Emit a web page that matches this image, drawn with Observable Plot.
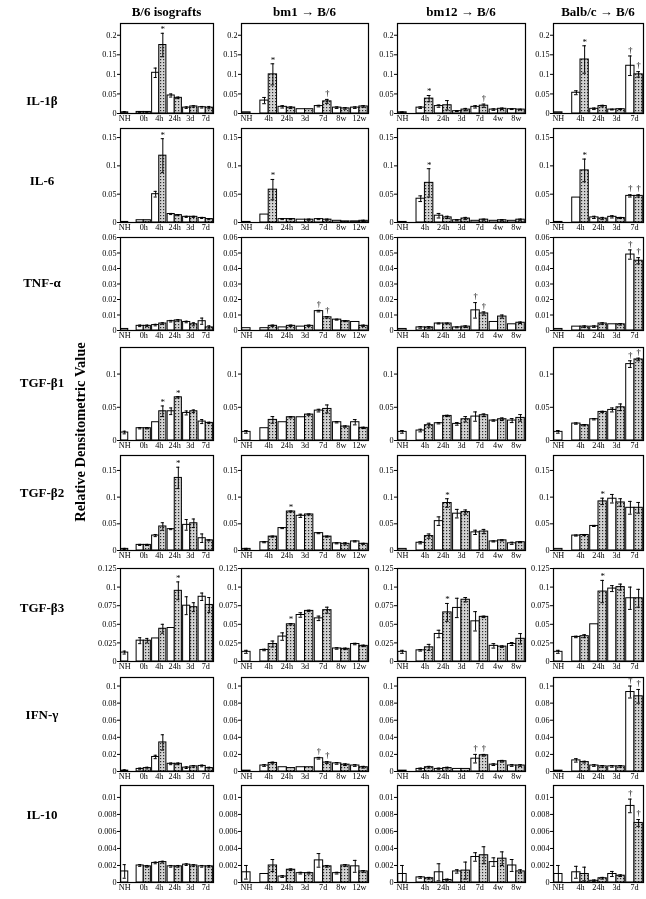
<!DOCTYPE html>
<html><head><meta charset="utf-8">
<script src="https://cdn.jsdelivr.net/npm/d3@7"></script>
<script src="https://cdn.jsdelivr.net/npm/@observablehq/plot@0.6"></script>
<style>
body{margin:0;background:#fff;}
#fig{position:relative;width:646px;height:899px;overflow:hidden;font-family:"Liberation Serif","DejaVu Serif",serif;color:#000;filter:grayscale(100%);}
.hdr{position:absolute;font-weight:bold;font-size:13px;transform:translate(-50%,-50%);white-space:nowrap;}
.rowlab{position:absolute;font-weight:bold;font-size:13px;transform:translate(-50%,-50%);white-space:nowrap;}
.ytitle{position:absolute;font-weight:bold;font-size:14.5px;white-space:nowrap;transform:translate(-50%,-50%) rotate(-90deg);}
.panel{position:absolute;}
.panel svg{overflow:visible;}
</style></head><body>
<div id="fig">
<svg width="0" height="0" style="position:absolute"><defs>
<pattern id="dots" width="3" height="3" patternUnits="userSpaceOnUse">
<rect width="3" height="3" fill="#d2d2d2"/><rect x="1" y="1" width="1.2" height="1.2" fill="#2a2a2a"/>
</pattern></defs></svg>
</div>
<script>
// ---------- categories / labels ----------
const COLS = ["B/6 isografts", "bm1 \u2192 B/6", "bm12 \u2192 B/6", "Balb/c \u2192 B/6"];
const CAT_ISO = ["NH","0h","4h","24h","3d","7d"];
const CAT_BM1 = ["NH","4h","24h","3d","7d","8w","12w"];
const CAT_BM12 = ["NH","4h","24h","3d","7d","4w","8w"];
const CAT_BALB = ["NH","4h","24h","3d","7d"];
const CATS = [CAT_ISO, CAT_BM1, CAT_BM12, CAT_BALB];
const ROWS = ["IL-1\u03b2","IL-6","TNF-\u03b1","TGF-\u03b21","TGF-\u03b22","TGF-\u03b23","IFN-\u03b3","IL-10"];
const Y_TITLE = "Relative Densitometric Value";

// tick labels per row
const TICKS_IL1B = [0, 0.05, 0.1, 0.15, 0.2];
const TICKS_IL6 = [0, 0.05, 0.1, 0.15];
const TICKS_TNF = [0, 0.01, 0.02, 0.03, 0.04, 0.05, 0.06];
const TICKS_TGFB1 = [0, 0.05, 0.1];
const TICKS_TGFB2 = [0, 0.05, 0.1, 0.15];
const TICKS_TGFB3 = [0, 0.025, 0.05, 0.075, 0.1, 0.125];
const TICKS_IFN = [0, 0.02, 0.04, 0.06, 0.08, 0.1];
const TICKS_IL10 = [0, 0.002, 0.004, 0.006, 0.008, 0.01];
const Y_TICKS = [TICKS_IL1B, TICKS_IL6, TICKS_TNF, TICKS_TGFB1, TICKS_TGFB2, TICKS_TGFB3, TICKS_IFN, TICKS_IL10];
const Y_MAX = [0.23, 0.166, 0.06, 0.14, 0.178, 0.125, 0.11, 0.0114];

// ---------- values: w = open bars, d = stippled bars, we/de = error ----------
const IL1B = {
 w:[[0.003,0.004,0.104,0.046,0.015,0.016],[0.003,0.033,0.017,0.011,0.019,0.015,0.015],[0.003,0.015,0.019,0.006,0.017,0.010,0.011],[0.003,0.053,0.012,0.010,0.122]],
 d:[[null,0.004,0.175,0.040,0.018,0.015],[null,0.100,0.015,0.011,0.031,0.013,0.018],[null,0.038,0.021,0.010,0.020,0.012,0.010],[null,0.138,0.019,0.011,0.100]],
 we:[[0.002,0.001,0.012,0.004,0.002,0.002],[0,0.008,0.003,0,0.002,0.002,0.002],[0.001,0.002,0.003,0.001,0.003,0.002,0.001],[0,0.005,0.002,0.001,0.025]],
 de:[[0,0.001,0.030,0.002,0.002,0.003],[0,0.027,0.002,0,0.005,0.002,0.002],[0,0.008,0.012,0.003,0.004,0.002,0.001],[0,0.035,0.002,0.001,0.007]]
};
const IL6 = {
 w:[[0.001,0.004,0.050,0.015,0.010,0.008],[0.001,0.014,0.006,0.005,0.006,0.003,0.002],[0.001,0.042,0.012,0.004,0.003,0.003,0.003],[0.001,0.044,0.009,0.010,0.047]],
 d:[[null,0.004,0.118,0.013,0.010,0.006],[null,0.058,0.006,0.005,0.005,0.002,0.003],[null,0.070,0.009,0.007,0.005,0.004,0.005],[null,0.092,0.007,0.008,0.047]],
 we:[[0,0,0.005,0.001,0.001,0.001],[0,0,0.001,0,0.001,0,0],[0,0.005,0.004,0.001,0,0,0],[0,0,0.002,0.002,0.002]],
 de:[[0,0,0.030,0.001,0.001,0.001],[0,0.018,0.001,0.001,0.001,0,0.001],[0,0.025,0.002,0.002,0.001,0.001,0.001],[0,0.020,0.002,0.001,0.002]]
};
const TNF = {
 w:[[0.001,0.003,0.0035,0.006,0.0055,0.006],[0.0015,0.0015,0.002,0.0025,0.0125,0.007,0.0055],[0.001,0.002,0.0045,0.002,0.013,0.0055,0.004],[0.001,0.0025,0.0025,0.004,0.049]],
 d:[[null,0.003,0.0045,0.0065,0.004,0.002],[null,0.003,0.003,0.003,0.0085,0.006,0.003],[null,0.002,0.0045,0.0025,0.011,0.009,0.005],[null,0.0025,0.0045,0.004,0.045]],
 we:[[0,0.0005,0.0005,0.0005,0.0005,0.002],[0,0,0,0,0.0005,0.0003,0],[0,0.0005,0.0003,0.0003,0.005,0,0],[0,0,0.0005,0,0.003]],
 de:[[0,0.0005,0.0005,0.0005,0.001,0.001],[0,0.0005,0.0005,0.0005,0.0005,0.0003,0.0005],[0,0.0005,0.0003,0.0005,0.001,0.001,0.0005],[0,0.0005,0.0005,0.0005,0.002]]
};
const TGFB1 = {
 w:[[0.012,0.0185,0.0275,0.044,0.0415,0.0285],[0.013,0.0185,0.0275,0.035,0.045,0.0275,0.0275],[0.013,0.015,0.026,0.025,0.036,0.030,0.030],[0.013,0.0255,0.032,0.046,0.115]],
 d:[[null,0.0185,0.044,0.065,0.044,0.0265],[null,0.031,0.035,0.039,0.0475,0.021,0.019],[null,0.023,0.037,0.032,0.038,0.032,0.034],[null,0.023,0.043,0.050,0.122]],
 we:[[0.002,0.001,0,0.005,0.003,0.003],[0.002,0,0,0,0.002,0.001,0.004],[0.002,0.002,0.001,0.002,0.007,0.001,0.003],[0.002,0.001,0.001,0.003,0.005]],
 de:[[0,0.001,0.008,0.001,0.002,0.001],[0,0.005,0.001,0.001,0.006,0.001,0.001],[0,0.003,0.001,0.004,0.002,0.002,0.005],[0,0.001,0.001,0.005,0.002]]
};
const TGFB2 = {
 w:[[0.003,0.0105,0.028,0.040,0.048,0.023],[0.003,0.0155,0.042,0.065,0.0325,0.0135,0.017],[0.003,0.0145,0.055,0.069,0.034,0.017,0.0135],[0.003,0.028,0.046,0.097,0.080]],
 d:[[null,0.0105,0.045,0.136,0.051,0.019],[null,0.026,0.073,0.0675,0.026,0.0125,0.0125],[null,0.027,0.089,0.072,0.0355,0.019,0.0155],[null,0.029,0.092,0.090,0.080]],
 we:[[0.001,0.001,0.002,0.001,0.010,0.008],[0.001,0.001,0.001,0.003,0.001,0.001,0.001],[0,0.002,0.008,0.008,0.004,0.001,0.002],[0,0.001,0.001,0.008,0.012]],
 de:[[0,0.001,0.007,0.020,0.008,0.001],[0,0.001,0.001,0.001,0.001,0.002,0.001],[0,0.004,0.008,0.004,0.004,0.001,0.001],[0,0.001,0.006,0.007,0.010]]
};
const TGFB3 = {
 w:[[0.012,0.028,0.031,0.045,0.075,0.087],[0.013,0.0155,0.0335,0.0625,0.058,0.0175,0.0235],[0.013,0.015,0.037,0.072,0.054,0.021,0.0235],[0.013,0.033,0.050,0.098,0.085]],
 d:[[null,0.028,0.044,0.095,0.073,0.076],[null,0.0235,0.050,0.068,0.069,0.017,0.021],[null,0.019,0.066,0.083,0.060,0.020,0.0305],[null,0.034,0.094,0.100,0.085]],
 we:[[0.002,0.004,0,0,0.012,0.005],[0.002,0.001,0.005,0.003,0.003,0.001,0.001],[0.002,0.001,0.005,0.013,0.013,0.003,0.002],[0.002,0.001,0,0.004,0.015]],
 de:[[0,0.003,0.006,0.012,0.006,0.010],[0,0.004,0.001,0.001,0.004,0.001,0.001],[0,0.004,0.012,0.003,0.001,0.001,0.007],[0,0.002,0.015,0.004,0.012]]
};
const IFNG = {
 w:[[0.001,0.003,0.017,0.009,0.0045,0.0065],[0.001,0.007,0.005,0.005,0.0155,0.0095,0.007],[0.001,0.003,0.003,0.003,0.015,0.008,0.007],[0.001,0.013,0.007,0.006,0.093]],
 d:[[null,0.004,0.034,0.009,0.006,0.004],[null,0.010,0.004,0.005,0.0105,0.008,0.005],[null,0.005,0.004,0.003,0.019,0.012,0.007],[null,0.011,0.006,0.006,0.088]],
 we:[[0.001,0.001,0.002,0.001,0.001,0.001],[0,0.001,0,0,0.001,0.001,0.001],[0,0.001,0.001,0,0.005,0.001,0.001],[0,0.002,0.001,0.001,0.007]],
 de:[[0,0.001,0.009,0.001,0.001,0.001],[0,0.001,0,0,0.001,0.001,0.001],[0,0.001,0.001,0,0.001,0.001,0.001],[0,0.001,0.001,0.001,0.008]]
};
const IL10 = {
 w:[[0.0013,0.002,0.0023,0.0019,0.0021,0.0019],[0.0012,0.001,0.0007,0.0011,0.0026,0.0011,0.0019],[0.001,0.0006,0.0012,0.0013,0.003,0.0024,0.002],[0.001,0.0012,0.0002,0.001,0.009]],
 d:[[null,0.0019,0.0024,0.0019,0.002,0.0019],[null,0.002,0.0015,0.0011,0.0019,0.002,0.0013],[null,0.0005,0.0003,0.0014,0.0032,0.0028,0.0013],[null,0.001,0.0005,0.0008,0.007]],
 we:[[0.0008,0.0001,0.0001,0.0001,0.0001,0.0001],[0.0008,0,0.0001,0.0001,0.0008,0.0001,0.0007],[0.001,0.0001,0.001,0.0002,0.0005,0.0005,0.0007],[0.001,0.0007,0.0001,0.0003,0.0008]],
 de:[[0,0.0001,0.0001,0.0001,0.0001,0.0001],[0,0.0007,0.0001,0.0001,0.0001,0.0001,0.0001],[0,0.0001,0.0001,0.001,0.001,0.0008,0.0002],[0,0.0008,0.0001,0.0001,0.0004]]
};
const ROW_DATA = [IL1B, IL6, TNF, TGFB1, TGFB2, TGFB3, IFNG, IL10];

// significance marks: [row, col, category, series, symbol]
const SIG = [
 [0,0,"4h","d","*"],[0,1,"4h","d","*"],[0,1,"7d","d","\u2020"],[0,2,"4h","d","*"],[0,2,"7d","d","\u2020"],[0,3,"4h","d","*"],[0,3,"7d","w","\u2020"],[0,3,"7d","d","\u2020"],
 [1,0,"4h","d","*"],[1,1,"4h","d","*"],[1,2,"4h","d","*"],[1,3,"4h","d","*"],[1,3,"7d","w","\u2020"],[1,3,"7d","d","\u2020"],
 [2,1,"7d","w","\u2020"],[2,1,"7d","d","\u2020"],[2,2,"7d","w","\u2020"],[2,2,"7d","d","\u2020"],[2,3,"7d","w","\u2020"],[2,3,"7d","d","\u2020"],
 [3,0,"4h","d","*"],[3,0,"24h","d","*"],[3,3,"7d","w","\u2020"],[3,3,"7d","d","\u2020"],
 [4,0,"24h","d","*"],[4,1,"24h","d","*"],[4,2,"24h","d","*"],[4,3,"24h","d","*"],
 [5,0,"24h","d","*"],[5,1,"24h","d","*"],[5,2,"24h","d","*"],[5,3,"24h","d","*"],
 [6,1,"7d","w","\u2020"],[6,1,"7d","d","\u2020"],[6,2,"7d","w","\u2020"],[6,2,"7d","d","\u2020"],[6,3,"7d","w","\u2020"],[6,3,"7d","d","\u2020"],
 [7,3,"7d","w","\u2020"],[7,3,"7d","d","\u2020"]
];

// ---------- layout ----------
const COL_LEFT = [120, 241, 397, 553];
const COL_RIGHT = [213, 368, 525, 643];
const ROW_TOP = [23, 128, 237, 347, 455, 568, 677, 785];
const ROW_ZERO = [113, 222, 330, 440, 550, 661, 771, 882];
const ROW_LAB_Y = [101, 181, 283, 383, 493, 608, 715, 815];

const fig = document.getElementById("fig");
function addDiv(cls, text, x, y) {
  const d = document.createElement("div");
  d.className = cls; d.textContent = text;
  d.style.left = x + "px"; d.style.top = y + "px";
  fig.appendChild(d); return d;
}
COLS.forEach((t, c) => addDiv("hdr", t, (COL_LEFT[c] + COL_RIGHT[c]) / 2, 12));
ROWS.forEach((t, r) => addDiv("rowlab", t, 42, ROW_LAB_Y[r]));
addDiv("ytitle", Y_TITLE, 80, 432);

const fmt = d3.format("~g");
const PAD = 0.04;

function panel(r, c) {
  const cats = CATS[c], n = cats.length, rd = ROW_DATA[r];
  const bars = [];
  cats.forEach((cat, i) => {
    const w = rd.w[c][i], d = rd.d[c][i];
    bars.push({cat, s: "w", x1: i + PAD, x2: i + 0.5, v: w, e: rd.we[c][i]});
    if (d != null) bars.push({cat, s: "d", x1: i + 0.5, x2: i + 1 - PAD, v: d, e: rd.de[c][i]});
  });
  bars.forEach(b => { b.cx = (b.x1 + b.x2) / 2; b.hw = (b.x2 - b.x1) * 0.22; });
  const errs = bars.filter(b => b.e > 0);
  const tickPos = cats.map((cat, i) => rd.d[c][i] == null ? (i + PAD + i + 0.5) / 2 : i + 0.5);
  const tickLab = new Map(tickPos.map((p, i) => [p, cats[i]]));
  const sig = SIG.filter(s => s[0] === r && s[1] === c).map(s => {
    const b = bars.find(b => b.cat === s[2] && b.s === s[3]);
    return {cx: b.cx, y: b.v + b.e, sym: s[4]};
  });
  const mL = 30, mR = 1, mT = 1, mB = 14;
  const fw = COL_RIGHT[c] - COL_LEFT[c], fh = ROW_ZERO[r] - ROW_TOP[r];
  const svg = Plot.plot({
    width: mL + fw + mR, height: mT + fh + mB,
    marginLeft: mL, marginRight: mR, marginTop: mT, marginBottom: mB,
    style: {fontFamily: "Liberation Serif, serif", fontSize: "8.2px", color: "#000", background: "transparent", overflow: "visible"},
    x: {domain: [0, n], ticks: tickPos, tickFormat: d => tickLab.get(d), tickSize: 0, tickPadding: 2, label: null},
    y: {domain: [0, Y_MAX[r]], ticks: Y_TICKS[r], tickFormat: fmt, tickSize: 3, tickPadding: 1, label: null},
    marks: [
      Plot.rectY(bars.filter(b => b.s === "w"), {x1: "x1", x2: "x2", y1: 0, y2: "v", fill: "white", stroke: "black", strokeWidth: 1}),
      Plot.rectY(bars.filter(b => b.s === "d"), {x1: "x1", x2: "x2", y1: 0, y2: "v", fill: "url(#dots)", stroke: "black", strokeWidth: 1}),
      Plot.ruleX(errs, {x: "cx", y1: d => Math.max(0, d.v - d.e), y2: d => d.v + d.e, stroke: "black", strokeWidth: 1}),
      Plot.ruleY(errs, {y: d => d.v + d.e, x1: d => d.cx - d.hw, x2: d => d.cx + d.hw, stroke: "black", strokeWidth: 1}),
      Plot.ruleY(errs.filter(d => d.v - d.e > 0), {y: d => d.v - d.e, x1: d => d.cx - d.hw, x2: d => d.cx + d.hw, stroke: "black", strokeWidth: 1}),
      Plot.text(sig.filter(s => s.sym === "*"), {x: "cx", y: "y", text: "sym", dy: -4, fontSize: 9, fill: "black"}),
      Plot.text(sig.filter(s => s.sym !== "*"), {x: "cx", y: "y", text: "sym", dy: -6, fontSize: 8.5, fill: "black"}),
      Plot.frame({stroke: "black", strokeWidth: 1.2})
    ]
  });
  const div = document.createElement("div");
  div.className = "panel";
  div.style.left = (COL_LEFT[c] - mL) + "px";
  div.style.top = (ROW_TOP[r] - mT) + "px";
  div.appendChild(svg);
  fig.appendChild(div);
}
for (let r = 0; r < ROWS.length; r++) for (let c = 0; c < COLS.length; c++) panel(r, c);
</script>
</body></html>
